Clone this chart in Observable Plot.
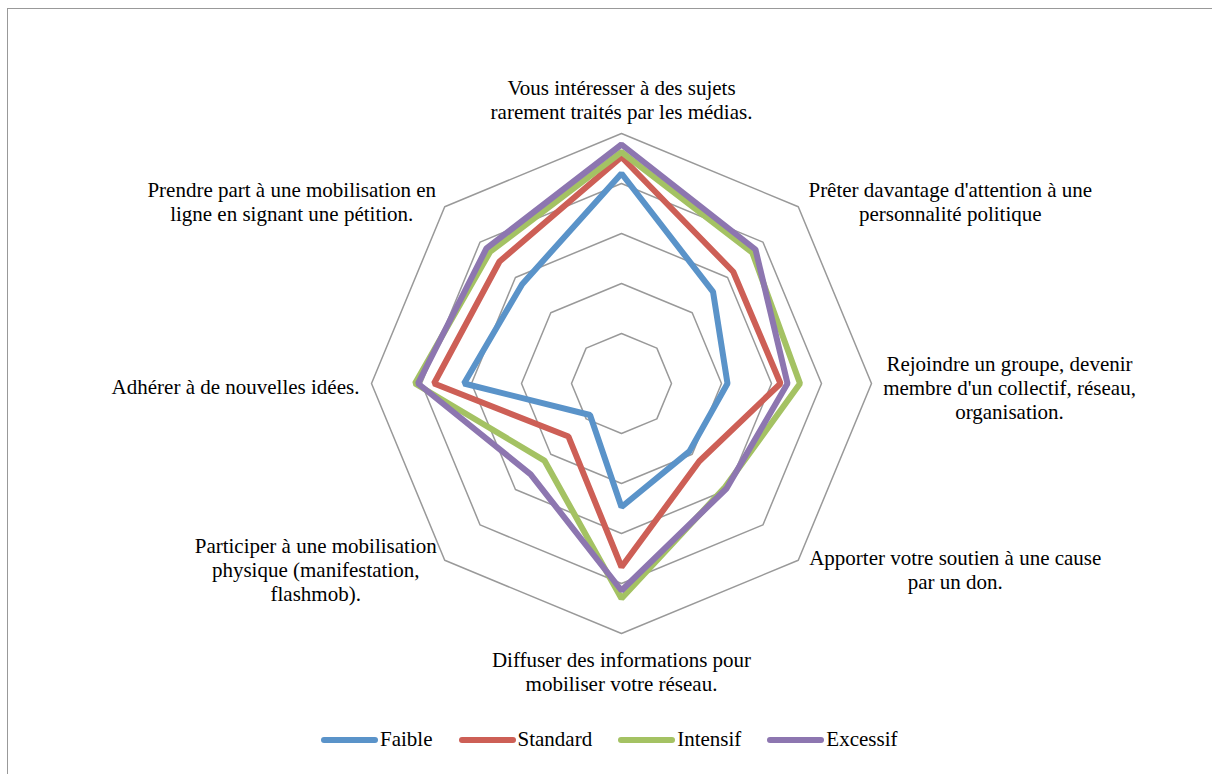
<!DOCTYPE html>
<html>
<head>
<meta charset="utf-8">
<script src="https://cdn.jsdelivr.net/npm/d3@7"></script>
<script src="https://cdn.jsdelivr.net/npm/@observablehq/plot@0.6"></script>
<style>
  html, body { margin: 0; padding: 0; background: #fff; overflow: hidden; width: 1212px; height: 774px; }
  #frame { position: absolute; left: 7px; top: 8px; width: 1400px; height: 900px; border: 1.5px solid #999; box-sizing: border-box; }
  #chart { position: absolute; left: 0; top: 0; }
  #legend { position: absolute; left: 321px; top: 727px; display: flex; align-items: center; gap: 26px;
            font-family: "Liberation Serif", "DejaVu Serif", "Noto Serif", serif; font-size: 21px; color: #000; }
  .item { display: flex; align-items: center; }
  .sw { width: 57px; height: 6px; border-radius: 3px; margin-right: 2px; }
  svg text { font-family: "Liberation Serif", "DejaVu Serif", "Noto Serif", serif; }
</style>
</head>
<body>
<div id="frame"></div>
<div id="chart"></div>
<div id="legend"></div>
<script>
// ---- data ----
const categories = [
  "Vous intéresser à des sujets\nrarement traités par les médias.",
  "Prêter davantage d'attention à une\npersonnalité politique",
  "Rejoindre un groupe, devenir\nmembre d'un collectif, réseau,\norganisation.",
  "Apporter votre soutien à une cause\npar un don.",
  "Diffuser des informations pour\nmobiliser votre réseau.",
  "Participer à une mobilisation\nphysique (manifestation,\nflashmob).",
  "Adhérer à de nouvelles idées.",
  "Prendre part à une mobilisation en\nligne en signant une pétition."
];
const seriesNames = ["Faible", "Standard", "Intensif", "Excessif"];
const faible   = [4.20, 2.59, 2.12, 1.92, 2.47, 0.89, 3.15, 2.81];
const standard = [4.53, 3.16, 3.18, 2.20, 3.67, 1.50, 3.75, 3.45];
const intensif = [4.63, 3.70, 3.57, 2.93, 4.30, 2.18, 4.13, 3.72];
const excessif = [4.78, 3.79, 3.32, 2.97, 4.14, 2.57, 4.07, 3.82];
const gridLevels = [1, 2, 3, 4, 5];

// ---- styles ----
const colors = ["#5a93c9", "#cd5f56", "#a4c263", "#8d76b0"];
const FONT = "'Liberation Serif', 'DejaVu Serif', 'Noto Serif', serif";
const W = 1212, H = 722, CX = 621, CY = 383, UNIT = 50;
const n = categories.length;
const ang = i => i * 2 * Math.PI / n;
const px = (i, r) => r * Math.sin(ang(i));
const py = (i, r) => r * Math.cos(ang(i));

const allSeries = [faible, standard, intensif, excessif];
const rows = [];
allSeries.forEach((vals, s) => vals.forEach((v, i) => rows.push({series: seriesNames[s], i, x: px(i, v), y: py(i, v)})));
const grid = [];
gridLevels.forEach(l => categories.forEach((c, i) => grid.push({level: l, x: px(i, l), y: py(i, l)})));

// label offsets in pixels from the outer vertex (layout only)
const labelOffsets = [[0, -34], [152, -5], [138, 4], [157, 9], [0, 38], [-129, 9], [-136, 3], [-153, -5]];
const outer = d3.max(gridLevels);

const marks = [
  Plot.line(grid, {x: "x", y: "y", z: "level", curve: "linear-closed", stroke: "#999", strokeWidth: 1.5})
];
seriesNames.forEach((name, s) => {
  marks.push(Plot.line(rows.filter(d => d.series === name), {
    x: "x", y: "y", curve: "linear-closed", stroke: colors[s], strokeWidth: 6, strokeLinejoin: "miter"
  }));
});
categories.forEach((c, i) => {
  marks.push(Plot.text([{x: px(i, outer), y: py(i, outer), t: c}], {
    x: "x", y: "y", text: "t", dx: labelOffsets[i][0], dy: labelOffsets[i][1],
    textAnchor: "middle", lineAnchor: "middle", lineHeight: 1.14,
    fontSize: 21, fill: "#000", fontFamily: FONT
  }));
});

const chart = Plot.plot({
  width: W, height: H,
  margin: 0,
  x: {domain: [-CX / UNIT, (W - CX) / UNIT], range: [0, W], axis: null},
  y: {domain: [CY / UNIT, -(H - CY) / UNIT], range: [0, H], axis: null},
  style: {background: "transparent", overflow: "visible", fontFamily: FONT},
  marks
});
document.getElementById("chart").appendChild(chart);

const legend = document.getElementById("legend");
seriesNames.forEach((name, s) => {
  const it = document.createElement("div");
  it.className = "item";
  const sw = document.createElement("span");
  sw.className = "sw";
  sw.style.background = colors[s];
  const tx = document.createElement("span");
  tx.textContent = name;
  it.appendChild(sw); it.appendChild(tx);
  legend.appendChild(it);
});
</script>
</body>
</html>
